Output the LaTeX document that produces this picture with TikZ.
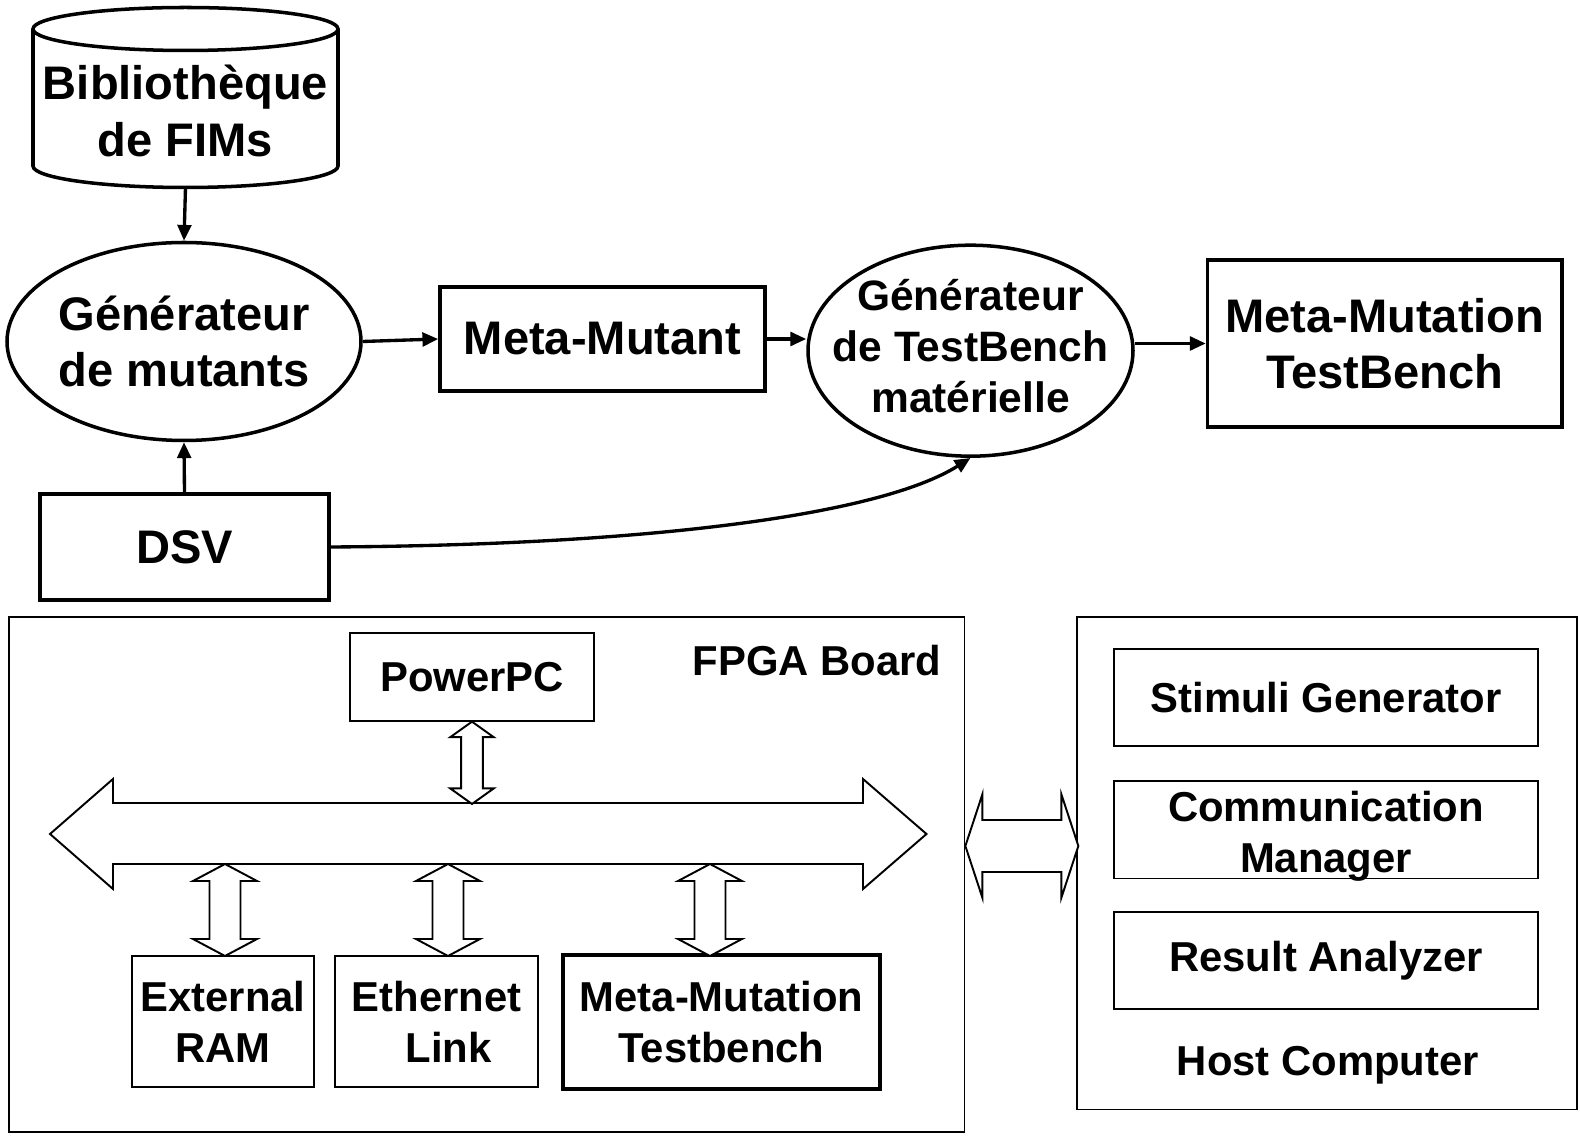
\documentclass[tikz,border=0pt]{standalone}
\usepackage{fontspec}
\setmainfont{Liberation Sans}
\usetikzlibrary{arrows.meta,shapes.geometric}

\tikzset{
  big/.style={font=\bfseries\fontsize{13.4}{16}\selectfont, align=center},
  small/.style={font=\bfseries\fontsize{11.9}{14.5}\selectfont, align=center},
  topbox/.style={draw, line width=1pt, inner sep=0pt},
  oval/.style={draw, ellipse, line width=1pt, inner sep=0pt},
  link/.style={line width=0.95pt, -{Triangle[length=4.5pt,width=3.9pt]}},
  thinbox/.style={draw, line width=0.55pt, inner sep=0pt},
  outerbox/.style={draw, line width=0.5pt, inner sep=0pt},
  hollow/.style={draw, line width=0.55pt, fill=white, line join=miter},
  % length / head half width / shaft half width / head length
  pics/vdouble/.style args={#1/#2/#3/#4}{code={
    \draw[hollow] (0,0) -- (#2,#4) -- (#3,#4) -- (#3,#1-#4) -- (#2,#1-#4) -- (0,#1)
      -- (-#2,#1-#4) -- (-#3,#1-#4) -- (-#3,#4) -- (-#2,#4) -- cycle;
  }},
  pics/hdouble/.style args={#1/#2/#3/#4}{code={
    \draw[hollow] (0,0) -- (#4,-#2) -- (#4,-#3) -- (#1-#4,-#3) -- (#1-#4,-#2) -- (#1,0)
      -- (#1-#4,#2) -- (#1-#4,#3) -- (#4,#3) -- (#4,#2) -- cycle;
  }},
}

\begin{document}
\begin{tikzpicture}[x=0.1mm, y=-0.1mm]
  \fill[white] (0,0) rectangle (1580,1137);
  \useasboundingbox (0,0) rectangle (1580,1137);

  % Bibliotheque (cylindre)
  \draw[line width=1pt] (33,29) -- (33,166) arc[start angle=180, end angle=360, x radius=15.25mm, y radius=2.15mm] -- (338,29);
  \draw[line width=1pt] (185.5,29) ellipse[x radius=15.25mm, y radius=2.15mm];
  \node[big] (lib) at (185.5,111) {Bibliothèque\\de FIMs};
  \coordinate (libbot) at (185.5,187.5);

  % Flot de generation
  \node[oval, minimum width=35.4mm, minimum height=19.8mm] (gen) at (184,341.5) {};
  \node[big] (gentxt) at (gen) {Générateur\\de mutants};
  \node[topbox, big, minimum width=32.5mm, minimum height=10.35mm] (mm) at (602.5,339) {Meta-Mutant};
  \node[oval, minimum width=32.5mm, minimum height=21.1mm] (tbgen) at (970.5,350.7) {};
  \node[font=\bfseries\fontsize{12.1}{14.5}\selectfont, align=center] (tbgentxt) at (970.5,346) {Générateur\\de TestBench\\matérielle};
  \node[topbox, big, minimum width=35.45mm, minimum height=16.7mm] (mmtb) at (1384.75,343.5) {Meta-Mutation\\TestBench};
  \node[topbox, big, minimum width=28.9mm, minimum height=10.6mm] (dsv) at (184.5,547) {DSV};

  % Fleches
  \draw[link] (libbot) -- (gen.north);
  \draw[link] (gen.east) -- (mm.west);
  \draw[link] (mm.east) -- (mm.east -| tbgen.west);
  \draw[link] (tbgen.east |- mmtb.west) -- (mmtb.west);
  \draw[link] (dsv.north) -- (gen.south);
  \draw[link] (dsv.east) .. controls (650,545) and (880,515) .. (tbgen.south);

  % FPGA Board
  \node[outerbox, minimum width=95.55mm, minimum height=51.5mm] (fpga) at (486.75,874.25) {};
  \node[small] (fpgatxt) at (817,661) {FPGA Board};
  \node[thinbox, small, minimum width=24.4mm, minimum height=8.8mm] (ppc) at (472,676.7) {PowerPC};
  \node[thinbox, small, minimum width=18.2mm, minimum height=13.1mm] (ram) at (223,1021.5) {External\\RAM};
  \node[thinbox, small, minimum width=20.3mm, minimum height=13.1mm] (eth) at (436.5,1021.5) {Ethernet\\\hspace*{2.4mm}Link};
  \node[draw, line width=1.4pt, inner sep=0pt, small, minimum width=31.7mm, minimum height=13.4mm] (mmt) at (721.5,1022) {Meta-Mutation\\Testbench};

  % Bus
  \draw[hollow] (50,834) -- (113,779) -- (113,803) -- (863,803) -- (863,779) -- (926.5,834)
    -- (863,889) -- (863,864) -- (113,864) -- (113,889) -- cycle;
  \coordinate (bustop) at (0,803);
  \coordinate (busbot) at (0,864);
  \pic at (ppc.south) {vdouble=82.3/21.7/10.8/15.5};
  \pic at (225,0 |- busbot) {vdouble=92/32/15.5/17};
  \pic at (448,0 |- busbot) {vdouble=92/32/15.5/17};
  \pic at (710,0 |- busbot) {vdouble=92/32/15.5/17};

  % Host Computer
  \node[outerbox, minimum width=50mm, minimum height=49.28mm] (host) at (1327,863.1) {};
  \node[thinbox, small, minimum width=42.4mm, minimum height=9.7mm] (stim) at (1326,697.5) {Stimuli Generator};
  \node[thinbox, minimum width=42.4mm, minimum height=9.75mm] (comm) at (1326,829.75) {};
  \node[small] (commtxt) at (1326,836) {Communication\\Manager};
  \node[thinbox, small, minimum width=42.4mm, minimum height=9.7mm] (res) at (1326,960.5) {Result Analyzer};
  \node[small] (hosttxt) at (1328,1065) {Host Computer};

  % Liaison carte - PC
  \pic at (fpga.east |- 0,846) {hdouble=113/51.7/26/17};
\end{tikzpicture}
\end{document}
